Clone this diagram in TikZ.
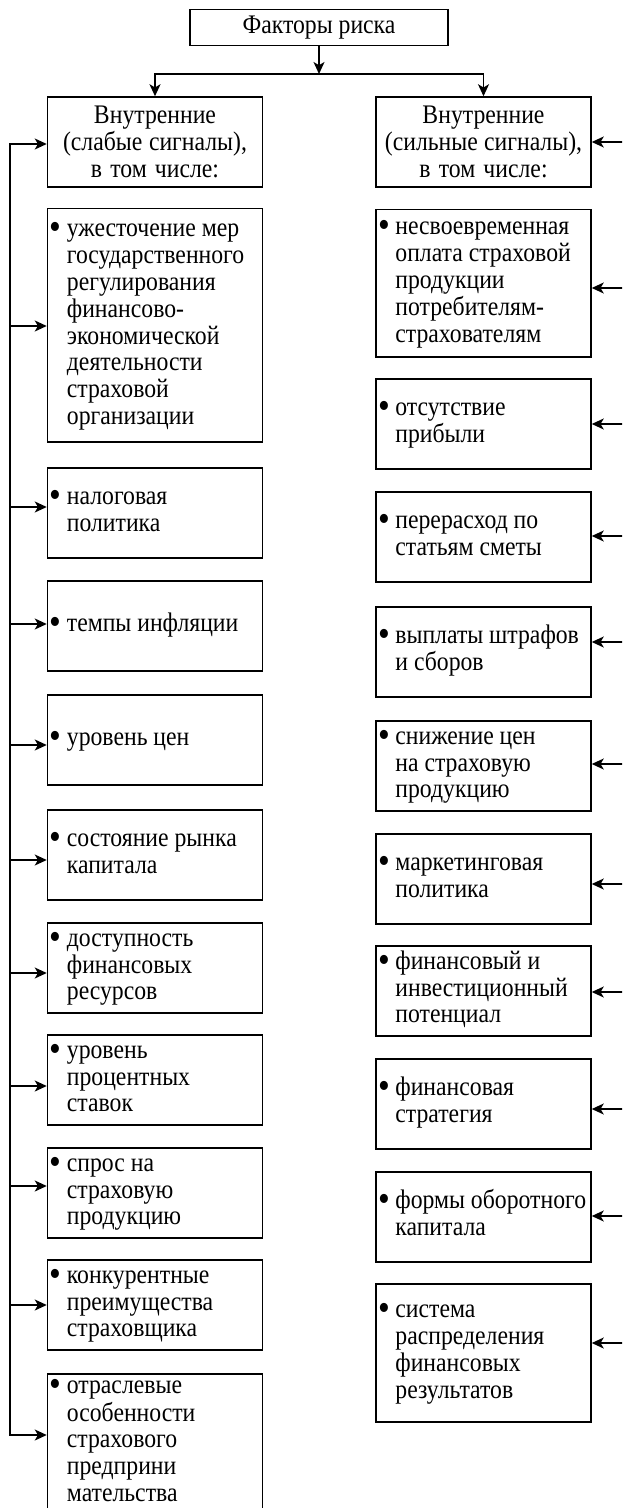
\documentclass[tikz,border=0pt]{standalone}
\usepackage{fontspec}
\setmainfont{Liberation Serif}[FakeStretch=0.885]
\usetikzlibrary{arrows.meta}
\newcommand{\punkt}[1]{\noindent\makebox[8.7pt][l]{\raisebox{-1.5pt}{\fontsize{19}{13.4}\selectfont\textbullet}}\begin{tabular}[t]{@{}l@{}}#1\end{tabular}}

\begin{document}
\begin{tikzpicture}[
  x=0.5pt, y=-0.5pt,
  every node/.style={draw, line width=0.75pt, font=\fontsize{13.4}{13.4}\selectfont,
    execute at begin node={\spaceskip=0pt\xspaceskip=0pt}},
  >={Stealth[length=6pt, width=5.5pt, inset=1.6pt]}
]
\tikzset{
  zagolovok/.style={text width=105.5pt, inner xsep=1pt, inner ysep=0pt, minimum height=45pt, align=center},
  punktbox/.style={text width=105.5pt, inner xsep=1pt, inner ysep=0pt, minimum height=#1, anchor=north, align=left},
  punktbox/.default=45pt,
  svyaz/.style={line width=0.75pt}
}
\clip (0,0) rectangle (622,1508);

\node[minimum width=129pt, minimum height=18pt, inner sep=0pt] (faktory) at (319,27.6) {Факторы риска};
\node[zagolovok] (slabye) at (155,142) {Внутренние\\(слабые сигналы),\\в том числе:};
\node[zagolovok] (silnye) at (483.5,142) {Внутренние\\(сильные сигналы),\\в том числе:};

% слабые сигналы
\node[punktbox=116.5pt] (sl1) at (155,208) {\punkt{ужесточение мер\\государственного\\регулирования\\финансово-\\экономической\\деятельности\\страховой\\организации}};
\node[punktbox] (sl2) at (155,467) {\punkt{налоговая\\политика}};
\node[punktbox] (sl3) at (155,580) {\punkt{темпы инфляции}};
\node[punktbox] (sl4) at (155,694) {\punkt{уровень цен}};
\node[punktbox] (sl5) at (155,809) {\punkt{состояние рынка\\капитала}};
\node[punktbox] (sl6) at (155,922) {\punkt{доступность\\финансовых\\ресурсов}};
\node[punktbox] (sl7) at (155,1034) {\punkt{уровень\\процентных\\ставок}};
\node[punktbox] (sl8) at (155,1147) {\punkt{спрос на\\страховую\\продукцию}};
\node[punktbox] (sl9) at (155,1259) {\punkt{конкурентные\\преимущества\\страховщика}};
\node[punktbox=68.5pt] (sl10) at (155,1373) {\punkt{отраслевые\\особенности\\страхового\\предприни\\мательства}};

% сильные сигналы
\node[punktbox=73.5pt] (si1) at (483.5,209) {\punkt{несвоевременная\\оплата страховой\\продукции\\потребителям-\\страхователям}};
\node[punktbox] (si2) at (483.5,378) {\punkt{отсутствие\\прибыли}};
\node[punktbox] (si3) at (483.5,491) {\punkt{перерасход по\\статьям сметы}};
\node[punktbox] (si4) at (483.5,606) {\punkt{выплаты штрафов\\и сборов}};
\node[punktbox] (si5) at (483.5,720) {\punkt{снижение цен\\на страховую\\продукцию}};
\node[punktbox] (si6) at (483.5,833) {\punkt{маркетинговая\\политика}};
\node[punktbox] (si7) at (483.5,945) {\punkt{финансовый и\\инвестиционный\\потенциал}};
\node[punktbox] (si8) at (483.5,1058) {\punkt{финансовая\\стратегия}};
\node[punktbox] (si9) at (483.5,1171) {\punkt{формы оборотного\\капитала}};
\node[punktbox=69pt] (si10) at (483.5,1283) {\punkt{система\\распределения\\финансовых\\результатов}};

\coordinate (razv) at (319,74);
\coordinate (ls) at (10,0);
\coordinate (rs) at (640,0);

\draw[svyaz,->] (faktory) -- (razv);
\draw[svyaz,->] (razv) -| (slabye);
\draw[svyaz,->] (razv) -| (silnye);

\draw[svyaz,<->] (slabye.west |- 0,144) -- (ls |- 0,144) -- (ls |- 0,1435) -- (sl10.west |- 0,1435);
\draw[svyaz,<-] (sl1.west |- 0,326) -- (ls |- 0,326);
\draw[svyaz,<-] (sl2.west |- 0,507) -- (ls |- 0,507);
\draw[svyaz,<-] (sl3.west |- 0,624) -- (ls |- 0,624);
\draw[svyaz,<-] (sl4.west |- 0,745) -- (ls |- 0,745);
\draw[svyaz,<-] (sl5.west |- 0,860) -- (ls |- 0,860);
\draw[svyaz,<-] (sl6.west |- 0,973) -- (ls |- 0,973);
\draw[svyaz,<-] (sl7.west |- 0,1086) -- (ls |- 0,1086);
\draw[svyaz,<-] (sl8.west |- 0,1186) -- (ls |- 0,1186);
\draw[svyaz,<-] (sl9.west |- 0,1305) -- (ls |- 0,1305);

\draw[svyaz,<-] (silnye.east |- 0,142) -- (rs |- 0,142);
\draw[svyaz,<-] (si1.east |- 0,288) -- (rs |- 0,288);
\draw[svyaz,<-] (si2.east |- 0,424) -- (rs |- 0,424);
\draw[svyaz,<-] (si3.east |- 0,536) -- (rs |- 0,536);
\draw[svyaz,<-] (si4.east |- 0,642) -- (rs |- 0,642);
\draw[svyaz,<-] (si5.east |- 0,764) -- (rs |- 0,764);
\draw[svyaz,<-] (si6.east |- 0,884) -- (rs |- 0,884);
\draw[svyaz,<-] (si7.east |- 0,992) -- (rs |- 0,992);
\draw[svyaz,<-] (si8.east |- 0,1109) -- (rs |- 0,1109);
\draw[svyaz,<-] (si9.east |- 0,1216) -- (rs |- 0,1216);
\draw[svyaz,<-] (si10.east |- 0,1343) -- (rs |- 0,1343);
\end{tikzpicture}
\end{document}
